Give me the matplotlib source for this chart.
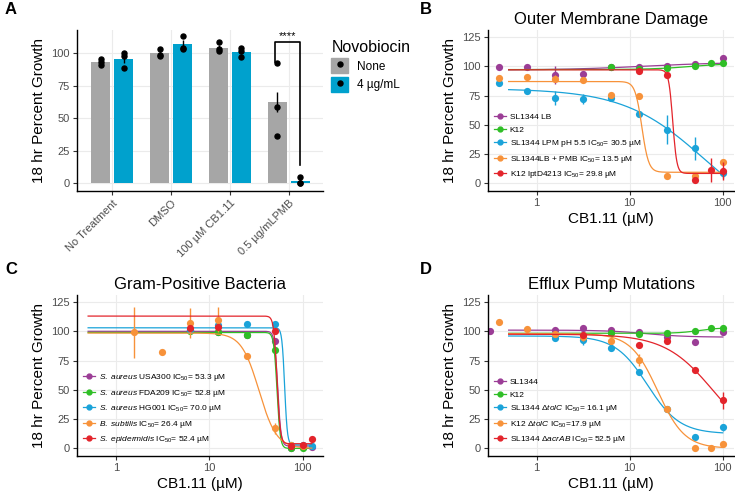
import numpy as np
import matplotlib.pyplot as plt
from matplotlib.patches import Patch
from matplotlib.lines import Line2D

plt.rcParams['font.family'] = ['Liberation Sans', 'DejaVu Sans']
plt.rcParams['mathtext.fontset'] = 'custom'
plt.rcParams['mathtext.rm'] = 'Liberation Sans'
plt.rcParams['mathtext.it'] = 'Liberation Sans:italic'

PURPLE = "#9b3d96"
GREEN = "#2fbe26"
BLUE = "#1aa3d9"
ORANGE = "#f7923a"
RED = "#e3242b"

# ---- panel A data ----
treatments = ["No Treatment", "DMSO", "100 µM CB1.11", "0.5 µg/mLPMB"]
none_mean = [93, 100, 104.5, 62.5]
novo_mean = [95.5, 107.5, 101, 1.5]
none_err = [1, 1.5, 2, 8]
novo_err = [3, 3, 1.5, 1.5]
none_pts = [[95.5, 93.5, 91], [103.5, 98.5, 98], [108.5, 103, 102], [92.5, 59, 36]]
novo_pts = [[100, 98, 89], [113.5, 104.5, 103], [104, 101.5, 97.5], [5, 0, 0]]

# ---- panel B data ----
b_labels = ["SL1344 LB", "K12",
            r"SL1344 LPM pH 5.5 IC$_{50}$= 30.5 µM",
            r"SL1344LB + PMB IC$_{50}$= 13.5 µM",
            r"K12 lptD4213 IC$_{50}$= 29.8 µM"]
b_x = [[0.39, 0.78, 1.56, 3.125, 6.25, 12.5, 25, 50, 100],
       [6.25, 12.5, 25, 50, 75, 100],
       [0.39, 0.78, 1.56, 3.125, 6.25, 12.5, 25, 50, 100],
       [0.39, 0.78, 1.56, 3.125, 6.25, 12.5, 25, 50, 100],
       [12.5, 25, 50, 75, 100]]
b_y = [[99.5, 99, 92.5, 93, 99.5, 99.5, 100.5, 102, 107],
       [99, 98, 98.5, 100, 102.5, 102.5],
       [85.5, 78.5, 73, 72, 73, 59.5, 46, 30, 8.5],
       [90, 91, 89.5, 88.5, 75.5, 75, 6.5, 6.5, 18],
       [96, 92.5, 2.5, 11.5, 10.5]]
b_err = [[0, 0, 8, 3, 0, 0, 0, 0, 0],
         [0, 0, 0, 0, 0, 2],
         [0, 2, 6, 4, 3, 0, 12, 10, 4],
         [0, 0, 3, 0, 0, 0, 0, 0, 0],
         [0, 0, 0, 10, 8]]
# fit: (top, bottom, ic50, hill)
b_fit = [(96.8, 103.5, 15, 1), (97.2, 102.5, 45, 2), (81, -40, 64, 1),
         (87, 9.5, 13.5, 12), (97, 8.5, 29, 20)]

# ---- panel C data ----
c_labels = [r"$\it{S.\ aureus}$ USA300 IC$_{50}$= 53.3 µM",
            r"$\it{S.\ aureus}$ FDA209 IC$_{50}$= 52.8 µM",
            r"$\it{S.\ aureus}$ HG001 IC$_{50}$= 70.0 µM",
            r"$\it{B.\ subtilis}$ IC$_{50}$= 26.4 µM",
            r"$\it{S.\ epidermidis}$ IC$_{50}$= 52.4 µM"]
c_x = [[6.25, 12.5, 25, 50, 75, 100, 125],
       [6.25, 12.5, 25, 50, 75, 100],
       [6.25, 12.5, 25, 50, 75, 100, 125],
       [1.56, 3.125, 6.25, 12.5, 25, 50, 75, 100],
       [6.25, 12.5, 50, 75, 100, 125]]
c_y = [[101, 99, 97, 92, 0.5, 1, 1.5],
       [100, 99, 97, 84, 0, 0.5],
       [101, 105, 106, 106, 2.5, 2.5, 2],
       [99, 82, 107, 110, 78.5, 17, 2.5, 2],
       [102.5, 103.5, 100.5, 2, 2.5, 8]]
c_err = [[0, 0, 0, 0, 0, 0, 0],
         [0, 0, 0, 0, 0, 0],
         [0, 0, 0, 0, 0, 0, 0],
         [22, 0, 13, 11, 0, 5, 0, 0],
         [0, 0, 0, 0, 0, 0]]
c_fit = [(100, 2, 54, 25), (99, 0, 53, 25), (103, 3, 64, 30),
         (98.5, 0, 34, 4.6), (113, 4, 53, 25)]

# ---- panel D data ----
d_labels = ["SL1344", "K12",
            r"SL1344 $\Delta\it{tolC}$ IC$_{50}$= 16.1 µM",
            r"K12 $\Delta\it{tolC}$ IC$_{50}$=17.9 µM",
            r"SL1344 $\Delta\it{acrAB}$ IC$_{50}$= 52.5 µM"]
d_x = [[0.3125, 1.56, 3.125, 6.25, 12.5, 25, 50, 100],
       [6.25, 12.5, 25, 50, 75, 100],
       [1.56, 3.125, 6.25, 12.5, 25, 50, 100],
       [0.39, 0.78, 1.56, 3.125, 6.25, 12.5, 25, 50, 75, 100],
       [3.125, 12.5, 25, 50, 100]]
d_y = [[100, 101.5, 102.5, 101.5, 99, 95, 90.5, 99],
       [98.5, 97.5, 98.5, 100, 102.5, 102.5],
       [94, 92.5, 86, 65.5, 34, 10, 18],
       [108, 102, 97.5, 95, 92, 75.5, 34, 0, 0, 3.5],
       [97, 88, 91.5, 67, 41]]
d_err = [[0, 0, 0, 0, 0, 0, 0, 0],
         [0, 0, 0, 0, 0, 3],
         [2, 4, 3, 2, 0, 0, 3],
         [0, 0, 0, 3, 3, 5, 0, 0, 0, 0],
         [0, 0, 0, 0, 7]]
d_fit = [(101, 95, 15, 2), (98.3, 103, 55, 4), (96, 12.5, 15.5, 2.5),
         (98, 0, 20, 3), (97.5, 0, 80, 1.66)]

colors = [PURPLE, GREEN, BLUE, ORANGE, RED]


def logistic(x, top, bottom, ic50, hill):
    return bottom + (top - bottom) / (1 + (x / ic50) ** hill)


def style_ax(ax):
    ax.set_facecolor("white")
    for s in ["top", "right"]:
        ax.spines[s].set_visible(False)
    for s in ["left", "bottom"]:
        ax.spines[s].set_linewidth(1.0)
        ax.spines[s].set_color("black")
    ax.grid(True, color="#ebebeb", lw=0.8)
    ax.set_axisbelow(True)
    ax.tick_params(length=3, width=0.8, color="#333333", labelsize=8,
                   labelcolor="#4d4d4d", pad=2)
    ax.set_ylabel("18 hr Percent Growth", fontsize=11, labelpad=4)


def dose_panel(ax, title, labels, xs, ys, errs, fits, xmax):
    style_ax(ax)
    ax.set_xscale("log")
    xx = np.geomspace(0.5, xmax, 300)
    handles = []
    for lab, col, x, y, e, f in zip(labels, colors, xs, ys, errs, fits):
        ax.plot(xx, logistic(xx, *f), color=col, lw=0.9)
        x = np.array(x)
        y = np.array(y)
        e = np.array(e)
        m = e > 0
        ax.vlines(x[m], y[m] - e[m], y[m] + e[m], color=col, lw=1.0)
        ax.plot(x, y, "o", color=col, ms=5.2, mec="none")
        handles.append(Line2D([], [], color=col, lw=0.9, marker="o", ms=3.5))
    ax.set_ylim(-6.5, 131)
    ax.set_yticks([0, 25, 50, 75, 100, 125])
    ax.set_xticks([1, 10, 100])
    ax.set_xticklabels(["1", "10", "100"])
    ax.minorticks_off()
    ax.set_title(title, fontsize=12, pad=4)
    ax.set_xlabel("CB1.11 (µM)", fontsize=11, labelpad=3)
    ax.legend(handles, labels, loc="lower left", bbox_to_anchor=(0.0, 0.03),
              frameon=False, fontsize=6, handlelength=1.4, handletextpad=0.5,
              labelspacing=0.55, borderaxespad=0.3)


fig = plt.figure(figsize=(7.35, 4.92), dpi=100)
axA = fig.add_axes([77 / 735, 1 - 191 / 492, 246 / 735, 161 / 492])
axB = fig.add_axes([488 / 735, 1 - 191 / 492, 246 / 735, 161 / 492])
axC = fig.add_axes([77 / 735, 1 - 456 / 492, 246 / 735, 161 / 492])
axD = fig.add_axes([488 / 735, 1 - 456 / 492, 246 / 735, 161 / 492])

# ---- panel A ----
style_ax(axA)
pos = np.arange(len(treatments))
off = 0.195
bw = 0.32
axA.bar(pos - off, none_mean, width=bw, color="#a6a6a6", zorder=2)
axA.bar(pos + off, novo_mean, width=bw, color="#00a1cd", zorder=2)
axA.vlines(pos - off, np.array(none_mean) - none_err, np.array(none_mean) + none_err,
           color="black", lw=1.0, zorder=3)
axA.vlines(pos + off, np.array(novo_mean) - novo_err, np.array(novo_mean) + novo_err,
           color="black", lw=1.0, zorder=3)
for i in range(len(treatments)):
    axA.plot([pos[i] - off] * len(none_pts[i]), none_pts[i], "o", color="black",
             ms=3.6, zorder=4)
    axA.plot([pos[i] + off] * len(novo_pts[i]), novo_pts[i], "o", color="black",
             ms=3.6, zorder=4)
# significance bracket
xl, xr = pos[3] - off - 0.04, pos[3] + off
axA.plot([xl, xl, xr, xr], [93, 109, 109, 14], color="black", lw=1.2, zorder=5)
axA.text((xl + xr) / 2, 109.5, "****", ha="center", va="bottom", fontsize=8)
axA.set_xlim(-0.6, 3.58)
axA.set_ylim(-6, 118)
axA.set_yticks([0, 25, 50, 75, 100])
axA.set_xticks(pos)
axA.set_xticklabels(treatments, rotation=45, ha="right", rotation_mode="anchor")
leg_handles = [(Patch(color="#a6a6a6"), Line2D([], [], ls="", marker="o", color="black", ms=3.6)),
               (Patch(color="#00a1cd"), Line2D([], [], ls="", marker="o", color="black", ms=3.6))]
axA.legend(leg_handles, ["None", "4 µg/mL"], title="Novobiocin", loc="upper left",
           bbox_to_anchor=(1.015, 0.97), borderaxespad=0, frameon=False, fontsize=8.5,
           title_fontsize=11.5, handlelength=1.4, handleheight=1.6,
           labelspacing=0.3, alignment="left")

dose_panel(axB, "Outer Membrane Damage", b_labels, b_x, b_y, b_err, b_fit, 100)
axB.set_xlim(0.3, 132)
dose_panel(axC, "Gram-Positive Bacteria", c_labels, c_x, c_y, c_err, c_fit, 125)
axC.set_xlim(0.38, 165)
dose_panel(axD, "Efflux Pump Mutations", d_labels, d_x, d_y, d_err, d_fit, 100)
axD.set_xlim(0.3, 132)

for lab, x, y in [("A", 5, 10), ("B", 420, 10), ("C", 5, 270), ("D", 420, 270)]:
    fig.text(x / 735, 1 - y / 492, lab, fontsize=12, fontweight="bold", va="center")

fig.savefig("out.png", dpi=100)
